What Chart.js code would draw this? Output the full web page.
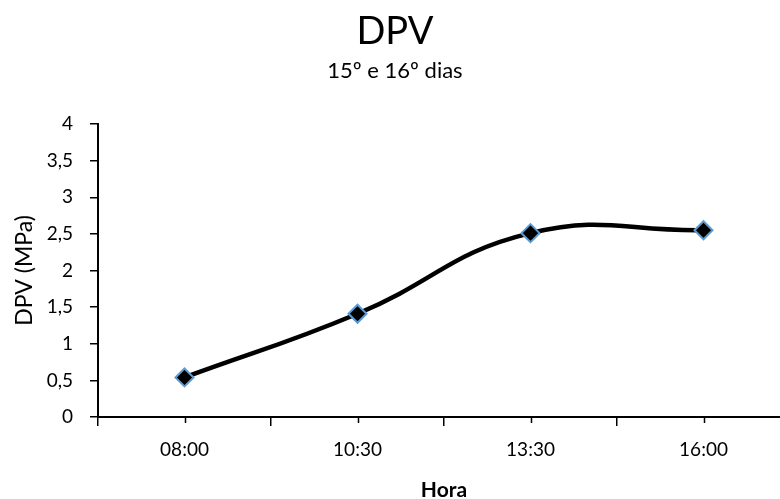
<!DOCTYPE html>
<html lang="pt">
<head>
  <meta charset="UTF-8">
  <title>DPV</title>
  <script src="https://cdn.jsdelivr.net/npm/chart.js"></script>
  <style>
    html, body { margin: 0; padding: 0; background: #fff; overflow: hidden; }
    #frame { width: 780px; height: 499px; overflow: hidden; position: relative; }
    #chart { display: block; position: absolute; left: 0; top: 0; }
  </style>
</head>
<body>
  <div id="frame"><canvas id="chart" width="790" height="503" style="width:790px;height:503px"></canvas></div>

  <script>
    // data
    const horas = ['08:00', '10:30', '13:30', '16:00'];
    const dpv = [0.54, 1.41, 2.51, 2.55];
    const yTicks = [0, 0.5, 1, 1.5, 2, 2.5, 3, 3.5, 4];

    Chart.defaults.font.family = "Lato, 'Open Sans', sans-serif";
    Chart.defaults.color = '#000';

    // small ticks under each category (Excel minor tick marks)
    const minorTicks = {
      id: 'minorTicks',
      afterDraw(chart) {
        const x = chart.scales.x;
        const ctx = chart.ctx;
        ctx.save();
        ctx.strokeStyle = '#000';
        ctx.lineWidth = 1.5;
        horas.forEach((h, i) => {
          const px = Math.round(x.getPixelForTick(i)) + 0.5;
          ctx.beginPath();
          ctx.moveTo(px, x.top);
          ctx.lineTo(px, x.top + 6);
          ctx.stroke();
        });
        ctx.restore();
      }
    };

    new Chart(document.getElementById('chart'), {
      type: 'line',
      data: {
        labels: horas,
        datasets: [{
          label: 'DPV',
          data: dpv,
          borderColor: '#000',
          borderWidth: 4.5,
          tension: 0.45,
          fill: false,
          pointStyle: 'rectRot',
          pointRadius: 9,
          pointHoverRadius: 9,
          pointBackgroundColor: '#000',
          pointBorderColor: '#5B9BD5',
          pointBorderWidth: 2
        }]
      },
      options: {
        responsive: false,
        animation: false,
        devicePixelRatio: 1,
        layout: { padding: 0, autoPadding: false },
        plugins: {
          legend: { display: false },
          tooltip: { enabled: false },
          title: {
            display: true,
            text: 'DPV',
            font: { size: 38, weight: 'normal' },
            padding: { top: 9, bottom: 3 }
          },
          subtitle: {
            display: true,
            text: '15º e 16º dias',
            font: { size: 22 },
            padding: { top: 0, bottom: 40 }
          }
        },
        scales: {
          x: {
            offset: true,
            afterFit: (s) => { s.height = 86; s.paddingLeft = 0; s.paddingRight = 0; },
            grid: {
              offset: true,
              drawOnChartArea: false,
              drawTicks: true,
              tickLength: 9,
              color: '#000',
              lineWidth: 1.5
            },
            border: { display: true, color: '#000', width: 2 },
            ticks: { font: { size: 19 }, padding: 12, maxRotation: 0 },
            title: {
              display: true,
              text: 'Hora',
              font: { size: 21, weight: 'bold' },
              padding: { top: 0, bottom: 0 }
            }
          },
          y: {
            min: 0,
            max: 4,
            afterFit: (s) => { s.width = 98; },
            afterBuildTicks: (s) => { s.ticks = yTicks.map(v => ({ value: v })); },
            grid: {
              drawOnChartArea: false,
              drawTicks: true,
              tickLength: 8,
              color: '#000',
              lineWidth: 1.5
            },
            border: { display: true, color: '#000', width: 2 },
            ticks: {
              font: { size: 19 },
              padding: 17,
              callback: (v) => String(v).replace('.', ',')
            },
            title: {
              display: true,
              text: 'DPV (MPa)',
              font: { size: 23 },
              padding: { top: 11, bottom: 0 }
            }
          }
        }
      },
      plugins: [minorTicks]
    });
  </script>
</body>
</html>
